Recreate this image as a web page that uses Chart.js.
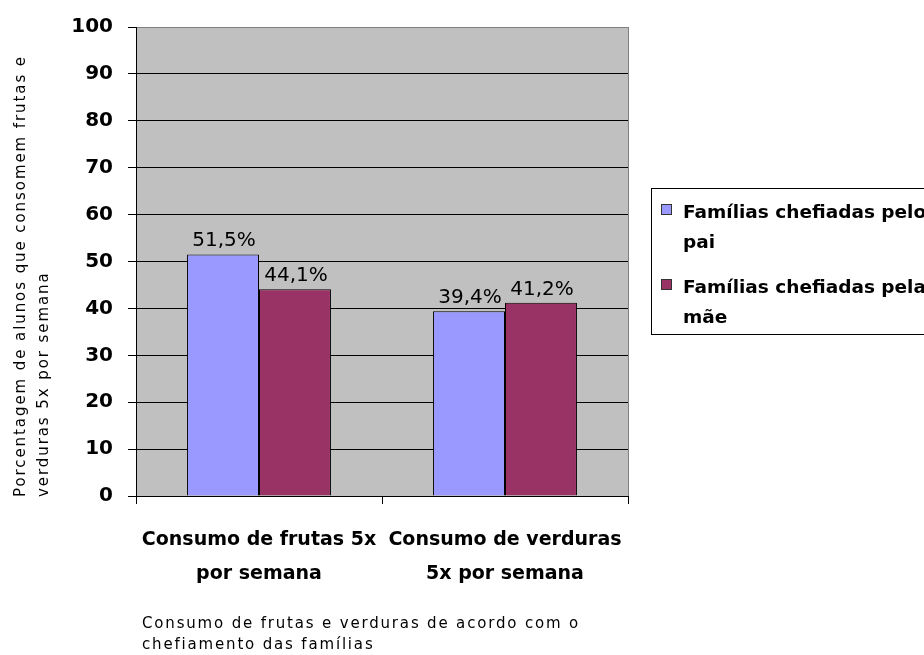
<!DOCTYPE html>
<html>
<head>
<meta charset="utf-8">
<script src="https://cdn.jsdelivr.net/npm/chart.js@4"></script>
<style>
  html, body { margin: 0; padding: 0; background: #ffffff; }
  #c { display: block; }
</style>
</head>
<body>
<canvas id="c" width="924" height="655"></canvas>
<script>
// ---- data ----
const categories = [
  ['Consumo de frutas 5x', 'por semana'],
  ['Consumo de verduras', '5x por semana']
];
const seriesNames = [
  ['Famílias chefiadas pelo', 'pai'],
  ['Famílias chefiadas pela', 'mãe']
];
const paiValues = [51.5, 39.4];
const maeValues = [44.1, 41.2];
const yAxisTitle = ['Porcentagem de alunos que consomem frutas e', 'verduras 5x por semana'];
const xAxisTitle = ['Consumo de frutas e verduras de acordo com o', 'chefiamento das famílias'];

const FONT = 'DejaVu Sans';
const colors = ['#9999FF', '#993366'];

function fmt(v) { return v.toFixed(1).replace('.', ',') + '%'; }

function spacedText(ctx, text, x, y, spacing) {
  ctx.letterSpacing = spacing + 'px';
  ctx.fillText(text, x, y);
  ctx.letterSpacing = '0px';
}
function spacingFor(ctx, text, target) {
  ctx.letterSpacing = '0px';
  const w = ctx.measureText(text).width;
  return (target - w) / text.length;
}

const customPlugin = {
  id: 'custom',
  beforeDraw(chart) {
    const { ctx, chartArea: a } = chart;
    ctx.save();
    ctx.fillStyle = '#ffffff';
    ctx.fillRect(0, 0, chart.width, chart.height);
    ctx.fillStyle = '#C0C0C0';
    ctx.fillRect(a.left, a.top, a.right - a.left, a.bottom - a.top);
    ctx.restore();
  },
  afterDatasetsDraw(chart) {
    const { ctx, chartArea: a } = chart;
    ctx.save();
    ctx.strokeStyle = '#808080';
    ctx.lineWidth = 1;
    ctx.beginPath();
    ctx.moveTo(Math.round(a.right) + 0.5, a.top);
    ctx.lineTo(Math.round(a.right) + 0.5, a.bottom);
    ctx.stroke();

    ctx.fillStyle = '#000';
    ctx.font = '20px "' + FONT + '"';
    ctx.textAlign = 'center';
    ctx.textBaseline = 'alphabetic';
    chart.data.datasets.forEach((ds, di) => {
      const meta = chart.getDatasetMeta(di);
      meta.data.forEach((bar, i) => {
        ctx.fillText(fmt(ds.data[i]), bar.x + 1, bar.y - 8);
      });
    });
    ctx.restore();
  },
  afterDraw(chart) {
    const { ctx, chartArea: a } = chart;
    ctx.save();
    ctx.fillStyle = '#000';

    ctx.font = '15px "' + FONT + '"';
    ctx.textAlign = 'left';
    ctx.textBaseline = 'middle';
    const sp = spacingFor(ctx, yAxisTitle[0], 442);
    const titleX = [21, 44];
    yAxisTitle.forEach((line, i) => {
      ctx.save();
      ctx.translate(titleX[i], a.bottom + 1);
      ctx.rotate(-Math.PI / 2);
      spacedText(ctx, line, 0, 0, sp);
      ctx.restore();
    });

    ctx.textBaseline = 'alphabetic';
    const sp2 = spacingFor(ctx, xAxisTitle[0], 438);
    spacedText(ctx, xAxisTitle[0], 142, 628, sp2);
    spacedText(ctx, xAxisTitle[1], 142, 649, sp2);

    const lx = 651, ly = 188, lb = 334;
    ctx.strokeStyle = '#000';
    ctx.lineWidth = 1;
    ctx.strokeRect(lx + 0.5, ly + 0.5, 300, lb - ly);
    ctx.font = 'bold 18.5px "' + FONT + '"';
    const entryBase = [218, 293];
    seriesNames.forEach((lines, i) => {
      const by = entryBase[i];
      ctx.fillStyle = colors[i];
      ctx.fillRect(661, by - 14, 11, 11);
      ctx.strokeStyle = '#333';
      ctx.strokeRect(661.5, by - 13.5, 10, 10);
      ctx.fillStyle = '#000';
      lines.forEach((t, j) => ctx.fillText(t, 683, by + j * 30));
    });
    ctx.restore();
  }
};

new Chart(document.getElementById('c'), {
  type: 'bar',
  data: {
    labels: categories,
    datasets: [
      { label: seriesNames[0].join(' '), data: paiValues, backgroundColor: colors[0], borderColor: '#000', borderWidth: 1 },
      { label: seriesNames[1].join(' '), data: maeValues, backgroundColor: colors[1], borderColor: '#000', borderWidth: 1 }
    ]
  },
  options: {
    responsive: false,
    animation: false,
    devicePixelRatio: 1,
    layout: { padding: { top: 24, right: 296, bottom: 0, left: 0 } },
    datasets: { bar: { categoryPercentage: 0.585, barPercentage: 1 } },
    plugins: { legend: { display: false }, tooltip: { enabled: false }, title: { display: false } },
    scales: {
      x: {
        afterFit(scale) { scale.height = 159; },
        grid: { display: true, drawOnChartArea: false, drawTicks: true, tickLength: 8, color: '#000', offset: true },
        border: { display: true, color: '#000', width: 1 },
        ticks: {
          color: '#000', padding: 19, maxRotation: 0, autoSkip: false,
          font: { family: FONT, size: 19, weight: 'bold', lineHeight: 1.8 }
        }
      },
      y: {
        min: 0, max: 100,
        afterFit(scale) { scale.width = 136; },
        grid: {
          color: (c) => (c.tick && c.tick.value === 100 ? '#808080' : '#000'),
          tickColor: '#000', tickLength: 8, drawTicks: true
        },
        border: { display: true, color: '#000', width: 1 },
        ticks: {
          stepSize: 10, color: '#000', padding: 15,
          font: { family: FONT, size: 20, weight: 'bold' }
        }
      }
    }
  },
  plugins: [customPlugin]
});
</script>
</body>
</html>
